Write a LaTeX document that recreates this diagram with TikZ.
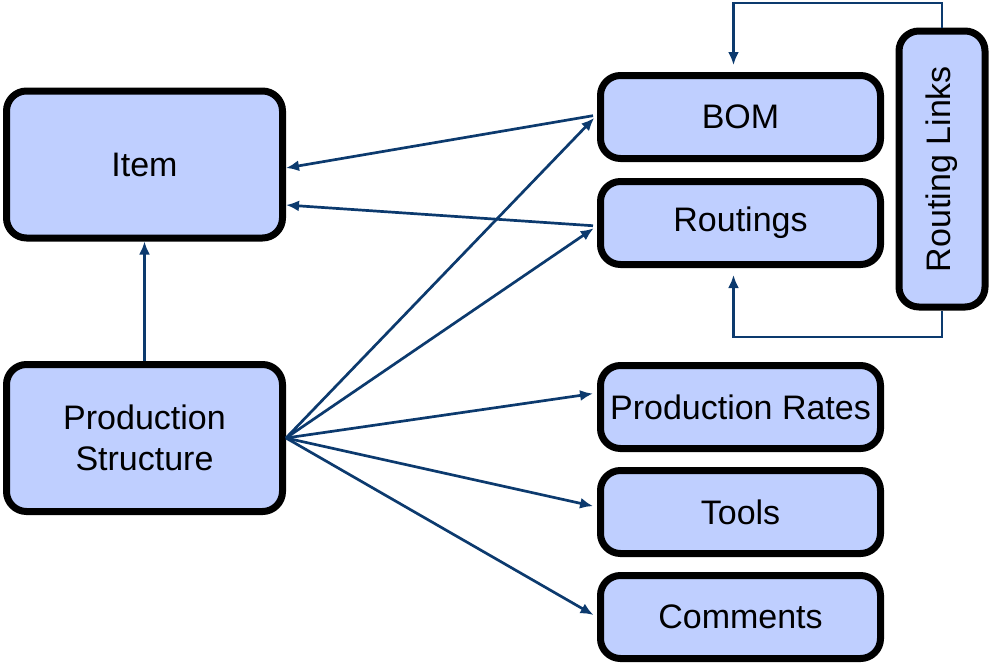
\documentclass[tikz,border=0pt]{standalone}
\usepackage{fontspec}
\setmainfont{Liberation Sans}
\usetikzlibrary{arrows.meta,positioning}
\definecolor{boxfill}{RGB}{191,207,255}
\definecolor{linkblue}{RGB}{12,58,110}

\begin{document}
\begin{tikzpicture}[x=1pt, y=-1pt, >={Latex[length=13pt,width=11pt]},
    block/.style={draw, line width=7pt, fill=boxfill, rounded corners=20pt,
      align=center, font=\fontsize{34}{41}\selectfont},
    bigbox/.style={block, minimum width=276pt, minimum height=147pt},
    smallbox/.style={block, minimum width=280pt, minimum height=83pt},
    link/.style={->, draw=linkblue, line width=2.7pt}]
  \useasboundingbox (0,0) rectangle (991,665);
  % left column
  \node[bigbox] (item) at (144.5,164.5) {Item};
  \node[bigbox] (prod) at (144.5,438) {Production\\Structure};
  % right column
  \node[smallbox] (bom) at (740.5,117) {BOM};
  \node[smallbox] (routing) at (740.5,223) {Routings};
  \node[smallbox] (rates) at (740.5,407) {Production Rates};
  \node[smallbox] (tools) at (740.5,512) {Tools};
  \node[smallbox] (comments) at (740.5,617) {Comments};
  \node[block, rotate=90, minimum width=276pt, minimum height=86pt] (links) at (942,169) {Routing Links};
  % loop helpers
  \coordinate (looptop) at (0,3);
  \coordinate (loopbot) at (0,337);
  \coordinate (bomin) at ([xshift=-7pt]bom.north);
  \coordinate (rtin) at ([xshift=-7pt]routing.south);
  % connectors
  \draw[link] (prod.north) -- (item.south);
  \draw[link, shorten <=4pt] ([yshift=2pt]bom.west) -- ([yshift=-3.5pt]item.east);
  \draw[link, shorten <=4pt] ([yshift=-3pt]routing.west) -- ([yshift=-40.5pt]item.east);
  \draw[link, shorten >=4pt] (prod.east) -- ([yshift=2pt]bom.west);
  \draw[link, shorten >=4pt] (prod.east) -- ([yshift=-3pt]routing.west);
  \draw[link, shorten >=4pt] (prod.east) -- ([yshift=14pt]rates.west);
  \draw[link, shorten >=4pt] (prod.east) -- ([yshift=5pt]tools.west);
  \draw[link, shorten >=4pt] (prod.east) -- (comments.west);
  \draw[link, shorten >=7pt] (links.east) |- (looptop -| bomin) -- (bomin);
  \draw[link, shorten >=7pt] (links.west) |- (loopbot -| rtin) -- (rtin);
\end{tikzpicture}
\end{document}
